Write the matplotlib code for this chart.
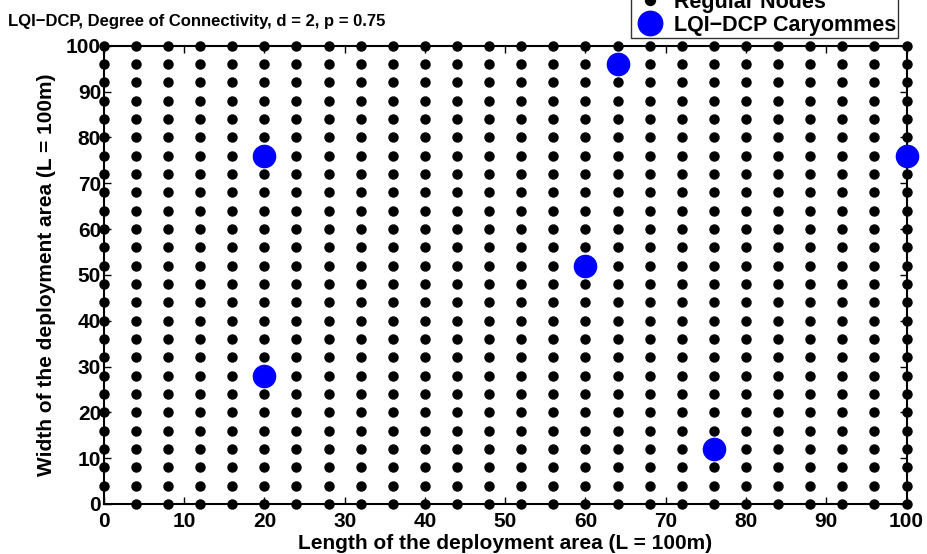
import numpy as np
import matplotlib
matplotlib.use("Agg")
from matplotlib import pyplot as plt

plt.rcParams['font.family'] = ['Liberation Sans', 'DejaVu Sans']
plt.rcParams['font.weight'] = 'bold'

# regular grid of nodes, step 4 on a 100 x 100 area (corner node at 0,0 absent)
grid_vals = np.arange(0, 101, 4)
gx, gy = np.meshgrid(grid_vals, grid_vals)
gx = gx.ravel()
gy = gy.ravel()
keep = ~((gx == 0) & (gy == 0))
node_x = gx[keep]
node_y = gy[keep]

# caryommes
cary_x = [20, 64, 100, 60, 20, 76]
cary_y = [76, 96, 76, 52, 28, 12]

title = "LQI\u2212DCP, Degree of Connectivity, d = 2, p = 0.75"
xlabel = "Length of the deployment area (L = 100m)"
ylabel = "Width of the deployment area (L = 100m)"
ticks = list(range(0, 101, 10))

fig = plt.figure(figsize=(9.27, 5.54), dpi=100)
ax = fig.add_axes([0.112, 0.0903, 0.866, 0.827])

ax.plot(node_x, node_y, 'o', color='black', markersize=6.5, linestyle='none',
        clip_on=False, label='Regular Nodes', zorder=3)
ax.plot(cary_x, cary_y, 'o', color='#0000ff', markersize=16, linestyle='none',
        clip_on=False, label='LQI\u2212DCP Caryommes', zorder=4)

ax.set_xlim(0, 100)
ax.set_ylim(0, 100)
ax.set_xticks(ticks)
ax.set_yticks(ticks)
ax.tick_params(direction='in', length=5, width=1, top=True, right=True,
               labelsize=15)
ax.tick_params(axis='x', pad=6)
ax.tick_params(axis='y', pad=2)
for lab in ax.get_xticklabels() + ax.get_yticklabels():
    lab.set_fontweight('bold')
for s in ax.spines.values():
    s.set_linewidth(1.5)

ax.set_xlabel(xlabel, fontsize=15, fontweight='bold', labelpad=2)
ax.set_ylabel(ylabel, fontsize=15, fontweight='bold', labelpad=7)

fig.text(0.009, 0.962, title, fontsize=12, fontweight='bold', va='center', ha='left')

leg = fig.legend(loc='lower right', bbox_to_anchor=(898 / 927, 1 - 38 / 554),
                 fontsize=15.5, frameon=True, fancybox=False, edgecolor='black',
                 borderpad=0.1, handletextpad=0.3, labelspacing=0.1,
                 handlelength=1.6, borderaxespad=0, markerscale=1.1)
leg.get_frame().set_linewidth(1)
for t in leg.get_texts():
    t.set_fontweight('bold')

fig.savefig("out.png", dpi=100)
